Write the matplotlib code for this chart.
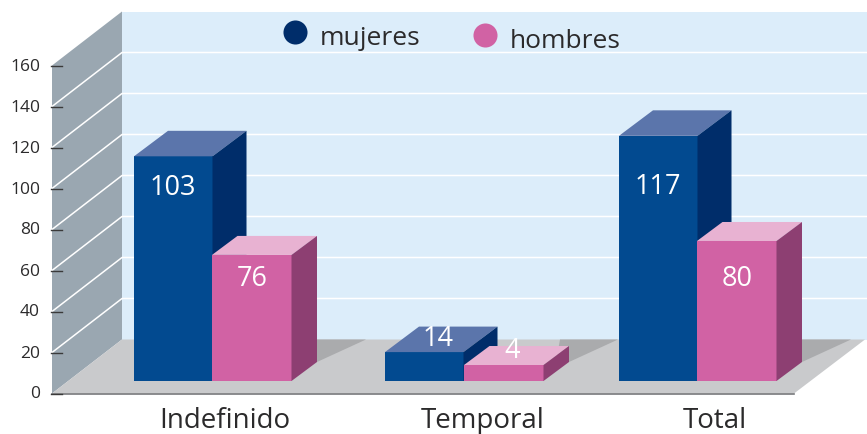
import matplotlib
matplotlib.use("Agg")
import matplotlib.pyplot as plt

# values printed on the bars
categories = ["Indefinido", "Temporal", "Total"]
mujeres = [103, 14, 117]
hombres = [76, 4, 80]
# the drawn heights don't follow the printed numbers, so they are read off the axis
mujeres_height = [109.6, 14.1, 119.6]
hombres_height = [61.5, 7.8, 68.3]
yticks = [0, 20, 40, 60, 80, 100, 120, 140, 160]
grid_values = [20, 40, 60, 80, 100, 120, 140]

# layout, x is in pixels, y goes through the value scale
W, H = 867, 435
ZERO_PX = 394.5
PX_PER_UNIT = 2.05
FRONT_X, FRONT_R = 52, 794
DEPTH_X, DEPTH_PX = 70, 54
BASE = (ZERO_PX - 382) / PX_PER_UNIT
BLUE_X = [134, 385, 619]
PINK_X = [212, 464, 697]
BLUE_W, PINK_W = 78.5, 79.5
cat_x = [225, 483, 715]
blue_label_x = [173, 438, 658]
pink_label_x = [252, 512, 737]
# label centre below the top of its bar, in pixels
blue_label_drop = [31, -14, 50]
pink_label_drop = [23, -15, 37]
shadow_left = [240, 560, 640]
shadow_low_left = [240, 556, 640]

WALL = "#9aa7b1"
BACK = "#dcedfa"
FLOOR = "#c9cacc"
SHADOW = "#aaabad"
TEXT = "#2b2a2b"
BLUE = ("#024a90", "#5b75ab", "#002d6a")
PINK = ("#d162a4", "#e8b2d2", "#8d3f72")

plt.rcParams["font.family"] = ["Open Sans", "DejaVu Sans"]


def units(px):
    return px / PX_PER_UNIT


def box(ax, x, w, h, dx, dy, colors, z):
    top = BASE + h
    d = units(dy)
    ax.fill([x, x + w, x + w, x], [BASE, BASE, top, top], color=colors[0], lw=0, zorder=z)
    ax.fill([x, x + w, x + w + dx, x + dx], [top, top, top + d, top + d],
            color=colors[1], lw=0, zorder=z)
    ax.fill([x + w, x + w + dx, x + w + dx, x + w], [BASE, BASE + d, top + d, top],
            color=colors[2], lw=0, zorder=z)


fig = plt.figure(figsize=(W / 100, H / 100), dpi=100)
ax = fig.add_axes([0, 0, 1, 1])
ax.set_xlim(0, W)
ax.set_ylim(units(ZERO_PX - H), units(ZERO_PX))
ax.axis("off")

depth = units(DEPTH_PX)
back_x = FRONT_X + DEPTH_X

# back wall, side wall and floor
ax.fill([back_x, W, W, back_x], [depth, depth, 160 + depth, 160 + depth], color=BACK, lw=0, zorder=1)
ax.fill([FRONT_X, back_x, back_x, FRONT_X], [0, depth, 160 + depth, 160], color=WALL, lw=0, zorder=1)
ax.fill([FRONT_X, FRONT_R, FRONT_R + 71, back_x], [0, 0, depth, depth], color=FLOOR, lw=0, zorder=1)

for v in grid_values:
    ax.plot([FRONT_X, back_x, W], [v, v + depth, v + depth], color="white", lw=1.1, zorder=2)

# shadows on the floor, behind each pair of bars
for i in range(3):
    right = PINK_X[i] + PINK_W + 25.5
    ax.fill([shadow_left[i], right + 49, right, shadow_low_left[i]],
            [depth, depth, BASE + units(19), BASE + units(19)],
            color=SHADOW, lw=0, zorder=3)

ax.plot([FRONT_X, FRONT_R], [0, 0], color="#77787b", lw=1.2, zorder=4)

# y axis
for v in yticks:
    ax.plot([FRONT_X - 1, FRONT_X + 10], [v, v], color="#3a3a3a", lw=1.0, zorder=5)
    ax.text(40, v, str(v), ha="right", va="center", fontsize=12.5, color=TEXT)

# bars, blue first so the pink ones sit in front
for i in range(3):
    box(ax, BLUE_X[i], BLUE_W, mujeres_height[i], 34, 25.5, BLUE, 6)
for i in range(3):
    box(ax, PINK_X[i], PINK_W, hombres_height[i], 25.5, 19, PINK, 7)

for i in range(3):
    ax.text(blue_label_x[i], BASE + mujeres_height[i] - units(blue_label_drop[i]), str(mujeres[i]),
            ha="center", va="center", fontsize=19.5, color="white", zorder=9)
    ax.text(pink_label_x[i], BASE + hombres_height[i] - units(pink_label_drop[i]), str(hombres[i]),
            ha="center", va="center", fontsize=19.5, color="white", zorder=9)
    ax.text(cat_x[i], units(ZERO_PX - 428), categories[i], ha="center", va="baseline",
            fontsize=20, color=TEXT)

# legend
ax.scatter([294.5], [units(ZERO_PX - 33)], s=300, color=BLUE[2], lw=0, zorder=9)
ax.scatter([485], [units(ZERO_PX - 36)], s=300, color=PINK[0], lw=0, zorder=9)
ax.text(320, units(ZERO_PX - 45), "mujeres", ha="left", va="baseline", fontsize=19, color=TEXT, zorder=9)
ax.text(510, units(ZERO_PX - 48), "hombres", ha="left", va="baseline", fontsize=19, color=TEXT, zorder=9)

fig.savefig("out.png", dpi=100)
